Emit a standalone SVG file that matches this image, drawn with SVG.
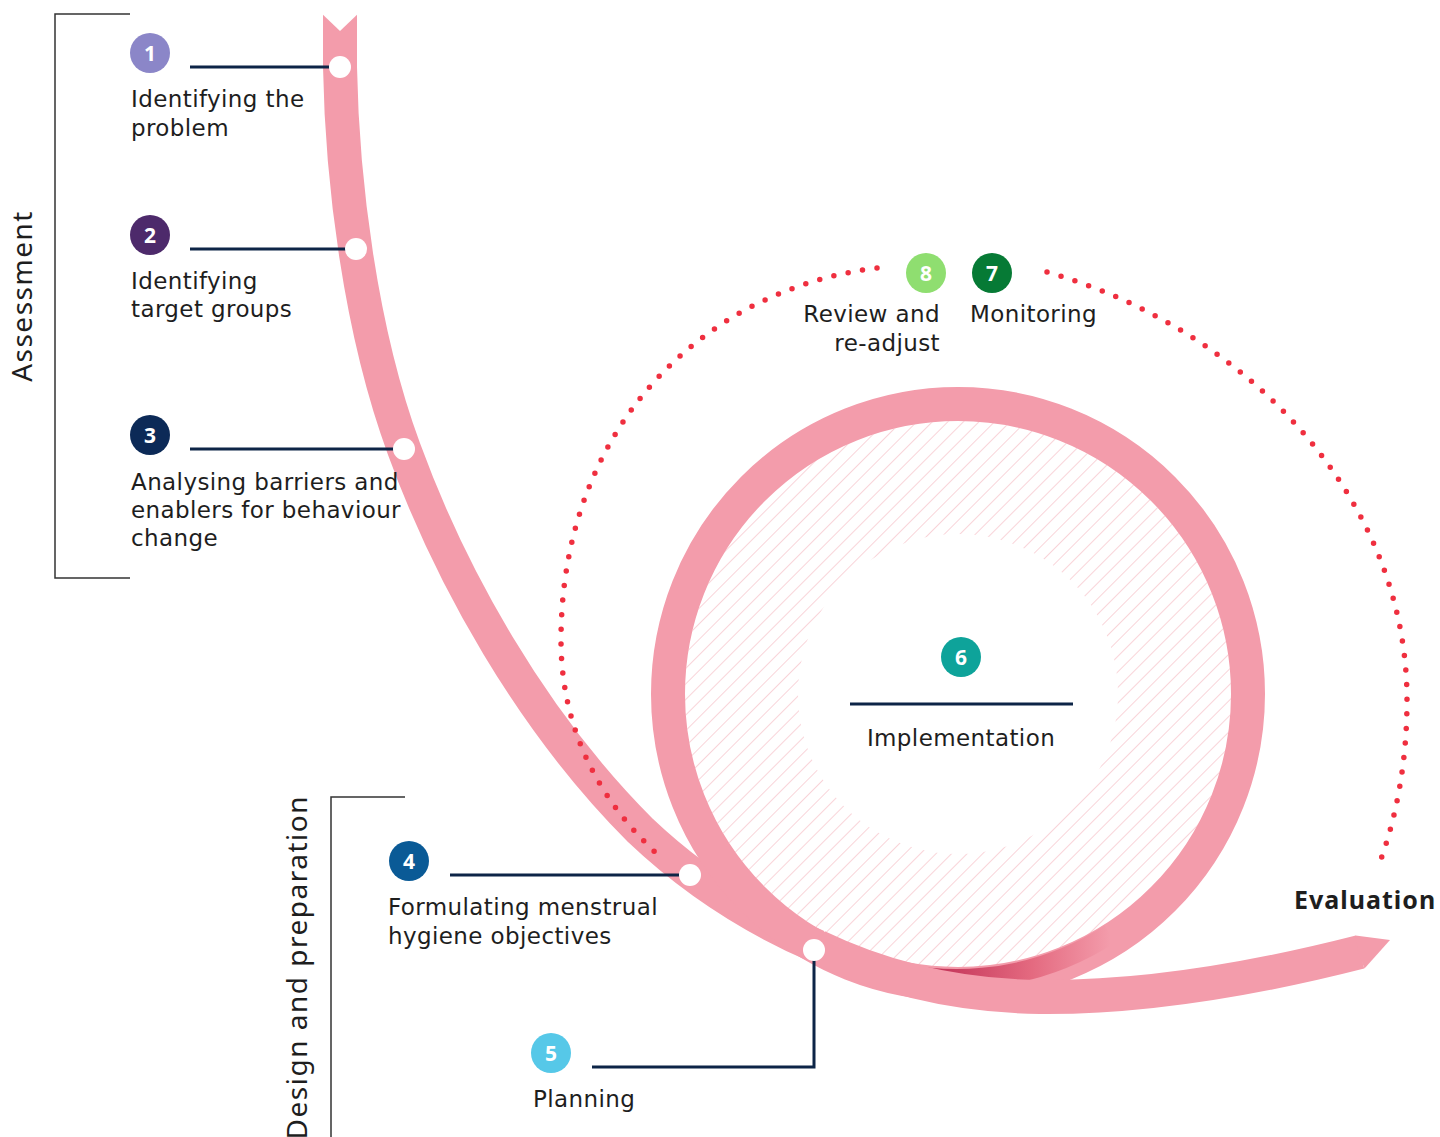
<svg xmlns="http://www.w3.org/2000/svg" width="1440" height="1137" viewBox="0 0 1440 1137">
<defs>
<style>
.lbl{font-family:"DejaVu Sans","Noto Sans",sans-serif;font-size:23px;letter-spacing:0.4px;fill:#1e1e1e}
.num{font-family:"Noto Sans","Open Sans",sans-serif;font-size:21px;font-weight:700;fill:#fff;text-anchor:middle}
.side{font-family:"Noto Sans","Open Sans",sans-serif;font-size:28px;letter-spacing:1.5px;fill:#1e1e1e}
.conn{stroke:#0d2547;stroke-width:3;fill:none}
.dot{fill:#fff}
.rib{fill:none;stroke:#f39cab;stroke-width:34}
.red{fill:none;stroke:#ef2f3f;stroke-width:5.5;stroke-linecap:round;stroke-dasharray:0 14.6}
.brk{fill:none;stroke:#333;stroke-width:1.5}
</style>
<pattern id="hatch" width="11" height="11" patternUnits="userSpaceOnUse" patternTransform="rotate(45)">
<line x1="0" y1="0" x2="0" y2="11" stroke="#f6bcc5" stroke-width="1.3"/>
</pattern>
<linearGradient id="ribShade" gradientUnits="userSpaceOnUse" x1="640" y1="0" x2="800" y2="0">
<stop offset="0" stop-color="#f39cab"/>
<stop offset="1" stop-color="#e4596b"/>
</linearGradient>
<linearGradient id="ringShade" gradientUnits="userSpaceOnUse" x1="850" y1="0" x2="1110" y2="0">
<stop offset="0" stop-color="#e05068"/>
<stop offset="0.35" stop-color="#c4365a"/>
<stop offset="0.7" stop-color="#e46a80"/>
<stop offset="1" stop-color="#f39cab"/>
</linearGradient>
</defs>
<rect width="1440" height="1137" fill="#fff"/>

<g id="hatching">
<path d="M958 421 A273 273 0 1 0 958.01 421 Z M958 534 A160 160 0 1 0 958.01 534 Z" fill="url(#hatch)" fill-rule="evenodd"/>
</g>

<g id="ribbon">
<path class="rib" d="M340 0 L340 67 C342 180 360 330 404 449 C450 575 530 720 640 830 C690 877.5 750 917.5 817.5 946.5" stroke="url(#ribShade)"/>
<circle cx="958" cy="694" r="290" fill="none" stroke="#f39cab" stroke-width="34"/>
<path d="M850 958 A283 283 0 0 0 1110 934" fill="none" stroke="url(#ringShade)" stroke-width="20"/>
<path class="rib" d="M817.5 946.5 C885 979 960 996 1040 997 C1150 998 1270 975 1360 952"/>
<polygon points="1355.5,935.5 1390,940 1364.5,968.5 1358,952" fill="#f39cab"/>
<polygon points="318,0 362,0 362,10 340,31 318,10" fill="#fff"/>
</g>

<g id="dotted-arcs">
<path class="red" d="M877 268 C700 290 561 430 561 640 C561 730 600 800 655 852"/>
<path class="red" d="M1047 272 C1250 330 1407 500 1407 700 C1407 760 1397 815 1380 862"/>
</g>

<g id="brackets">
<path class="brk" d="M130 14 H55 V578 H130"/>
<path class="brk" d="M405 797 H331 V1137"/>
<text class="side" transform="translate(32,296) rotate(-90)" text-anchor="middle">Assessment</text>
<text class="side" transform="translate(307,795) rotate(-90)" text-anchor="end" letter-spacing="1.1">Design and preparation</text>
</g>

<g id="connectors">
<line class="conn" x1="190" y1="67" x2="340" y2="67"/>
<line class="conn" x1="190" y1="249" x2="356" y2="249"/>
<line class="conn" x1="190" y1="449" x2="404" y2="449"/>
<line class="conn" x1="450" y1="875" x2="690" y2="875"/>
<polyline class="conn" points="592,1067 814,1067 814,950"/>
<line class="conn" x1="850" y1="704" x2="1073" y2="704"/>
</g>

<g id="node1">
<circle class="dot" cx="340" cy="67" r="11"/>
<circle cx="150" cy="53" r="20" fill="#8b86c8"/>
<text class="num" x="150" y="61">1</text>
<text class="lbl" x="131" y="107">Identifying the</text>
<text class="lbl" x="131" y="136">problem</text>
</g>
<g id="node2">
<circle class="dot" cx="356" cy="249" r="11"/>
<circle cx="150" cy="235" r="20" fill="#4d2a6b"/>
<text class="num" x="150" y="243">2</text>
<text class="lbl" x="131" y="289">Identifying</text>
<text class="lbl" x="131" y="317">target groups</text>
</g>
<g id="node3">
<circle class="dot" cx="404" cy="449" r="11"/>
<circle cx="150" cy="435" r="20" fill="#0c2a57"/>
<text class="num" x="150" y="443">3</text>
<text class="lbl" x="131" y="490">Analysing barriers and</text>
<text class="lbl" x="131" y="518">enablers for behaviour</text>
<text class="lbl" x="131" y="546">change</text>
</g>
<g id="node4">
<circle class="dot" cx="690" cy="875" r="11"/>
<circle cx="409" cy="861" r="20" fill="#0a5a96"/>
<text class="num" x="409" y="869">4</text>
<text class="lbl" x="388" y="915">Formulating menstrual</text>
<text class="lbl" x="388" y="944">hygiene objectives</text>
</g>
<g id="node5">
<circle class="dot" cx="814" cy="950" r="11"/>
<circle cx="551" cy="1053" r="20" fill="#56c8e8"/>
<text class="num" x="551" y="1061">5</text>
<text class="lbl" x="533" y="1107">Planning</text>
</g>
<g id="node6">
<circle cx="961" cy="657" r="20" fill="#0ea39a"/>
<text class="num" x="961" y="665">6</text>
<text class="lbl" x="961" y="746" text-anchor="middle">Implementation</text>
</g>
<g id="node7">
<circle cx="992" cy="273" r="20" fill="#067a35"/>
<text class="num" x="992" y="281">7</text>
<text class="lbl" x="970" y="322">Monitoring</text>
</g>
<g id="node8">
<circle cx="926" cy="273" r="20" fill="#8fde70"/>
<text class="num" x="926" y="281">8</text>
<text class="lbl" x="940" y="322" text-anchor="end">Review and</text>
<text class="lbl" x="940" y="351" text-anchor="end">re-adjust</text>
</g>
<g id="evaluation">
<text x="1294" y="909" font-family="Noto Sans, Open Sans, sans-serif" font-size="25" letter-spacing="1" font-weight="700" fill="#1e1e1e">Evaluation</text>
</g>
</svg>
